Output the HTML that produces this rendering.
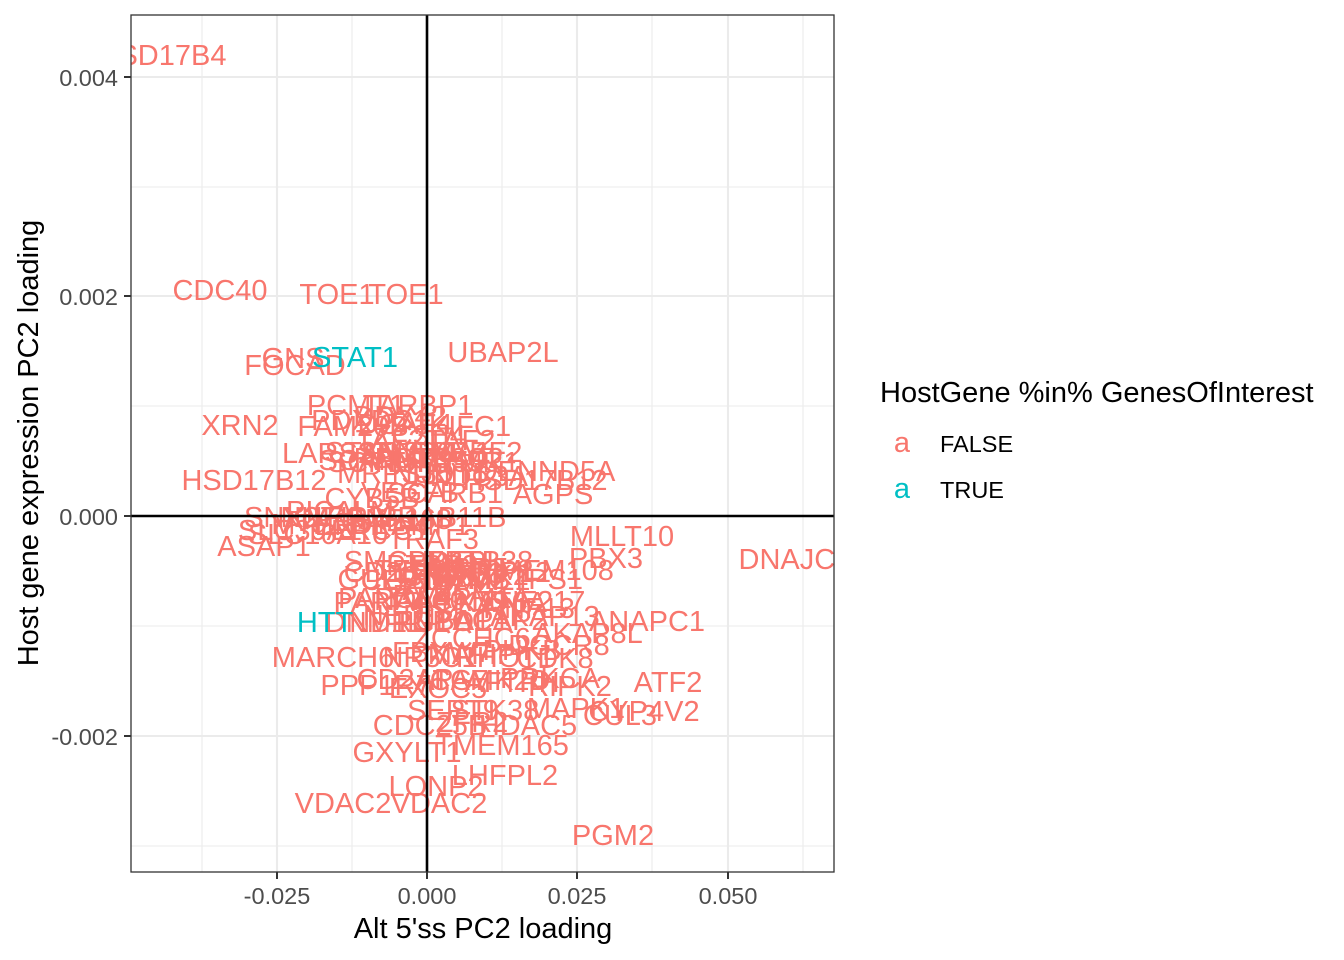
<!DOCTYPE html>
<html><head><meta charset="utf-8">
<style>
html,body{margin:0;padding:0;background:#fff;}
svg{display:block;}
text{font-family:"Liberation Sans",Arial,sans-serif;}
.f{fill:#F8766D;font-size:29px;text-anchor:middle;}
.t{fill:#00BFC4;font-size:29px;text-anchor:middle;}
.ax{fill:#4D4D4D;font-size:23.5px;}
</style></head>
<body>
<svg width="1344" height="960" viewBox="0 0 1344 960" xmlns="http://www.w3.org/2000/svg">
<defs><clipPath id="pc"><rect x="131" y="15" width="703" height="857"/></clipPath></defs>
<rect x="0" y="0" width="1344" height="960" fill="#fff"/>
<g stroke="#EBEBEB" stroke-width="1.1">
<line x1="202" y1="15" x2="202" y2="872"/><line x1="352" y1="15" x2="352" y2="872"/><line x1="502" y1="15" x2="502" y2="872"/><line x1="652" y1="15" x2="652" y2="872"/><line x1="803" y1="15" x2="803" y2="872"/>
<line x1="131" y1="187" x2="834" y2="187"/><line x1="131" y1="406" x2="834" y2="406"/><line x1="131" y1="626" x2="834" y2="626"/><line x1="131" y1="846" x2="834" y2="846"/>
</g>
<g stroke="#EBEBEB" stroke-width="2.1">
<line x1="277" y1="15" x2="277" y2="872"/><line x1="427" y1="15" x2="427" y2="872"/><line x1="577" y1="15" x2="577" y2="872"/><line x1="728" y1="15" x2="728" y2="872"/>
<line x1="131" y1="77" x2="834" y2="77"/><line x1="131" y1="296" x2="834" y2="296"/><line x1="131" y1="516" x2="834" y2="516"/><line x1="131" y1="736" x2="834" y2="736"/>
</g>
<g clip-path="url(#pc)">
<text class="f" x="162" y="65">HSD17B4</text>
<text class="f" x="220" y="300">CDC40</text>
<text class="f" x="337" y="304">TOE1</text>
<text class="f" x="406" y="304">TOE1</text>
<text class="f" x="503" y="362">UBAP2L</text>
<text class="f" x="295" y="375">FOCAD</text>
<text class="f" x="293" y="368">GNS</text>
<text class="f" x="356" y="415">PCMT1</text>
<text class="f" x="418" y="415">TARBP1</text>
<text class="f" x="240" y="435">XRN2</text>
<text class="f" x="353" y="436">FAM20B</text>
<text class="f" x="370" y="430">PDXDC1</text>
<text class="f" x="400" y="426">DDX42</text>
<text class="f" x="405" y="434">DCAF4</text>
<text class="f" x="470" y="436">KIFC1</text>
<text class="f" x="390" y="450">TAF2</text>
<text class="f" x="461" y="450">TAF2</text>
<text class="f" x="420" y="445">ZC3H4</text>
<text class="f" x="328" y="463">LARS2</text>
<text class="f" x="372" y="462">STAM2</text>
<text class="f" x="405" y="462">SENP6</text>
<text class="f" x="440" y="462">NUMA1</text>
<text class="f" x="466" y="462">SREBF2</text>
<text class="f" x="385" y="472">SCPEP1</text>
<text class="f" x="358" y="470">SCAP</text>
<text class="f" x="430" y="472">NUP155</text>
<text class="f" x="402" y="468">RBM33</text>
<text class="f" x="468" y="472">MTMR1</text>
<text class="f" x="448" y="468">GTF3C2</text>
<text class="f" x="546" y="481">DENND5A</text>
<text class="f" x="395" y="483">MRPS35</text>
<text class="f" x="440" y="483">NUDT5</text>
<text class="f" x="470" y="486">FNDC3A</text>
<text class="f" x="254" y="490">HSD17B12</text>
<text class="f" x="535" y="490">HSD17B12</text>
<text class="f" x="553" y="504">AGPS</text>
<text class="f" x="372" y="508">CYB5B</text>
<text class="f" x="410" y="502">VEGFB</text>
<text class="f" x="445" y="503">SCARB1</text>
<text class="f" x="290" y="527">SNX27</text>
<text class="f" x="332" y="527">NUFIP2</text>
<text class="f" x="362" y="527">VPS13B</text>
<text class="f" x="398" y="529">RNF168</text>
<text class="f" x="452" y="527">RAB11B</text>
<text class="f" x="340" y="521">PICALM</text>
<text class="f" x="330" y="534">MTHFD1</text>
<text class="f" x="372" y="535">ENTPD4</text>
<text class="f" x="420" y="535">RAMP1</text>
<text class="f" x="380" y="540">ERCC1</text>
<text class="f" x="318" y="544">SLC16A10</text>
<text class="f" x="300" y="540">SLC39A1</text>
<text class="f" x="433" y="549">TRAF3</text>
<text class="f" x="264" y="556">ASAP1</text>
<text class="f" x="622" y="546">MLLT10</text>
<text class="f" x="606" y="568">PBX3</text>
<text class="f" x="803" y="569">DNAJC13</text>
<text class="f" x="405" y="571">SMCHD1</text>
<text class="f" x="455" y="571">PREPL</text>
<text class="f" x="480" y="571">ZBTB38</text>
<text class="f" x="432" y="575">PTBP2</text>
<text class="f" x="470" y="578">UBR5</text>
<text class="f" x="502" y="582">TRIP12</text>
<text class="f" x="400" y="582">CD2BP2</text>
<text class="f" x="385" y="589">GULP1</text>
<text class="f" x="420" y="580">TELO2</text>
<text class="f" x="450" y="583">LPCAT3</text>
<text class="f" x="470" y="585">PPIP5K2</text>
<text class="f" x="547" y="580">TMEM108</text>
<text class="f" x="525" y="589">MBTPS1</text>
<text class="f" x="415" y="590">CEP192</text>
<text class="f" x="458" y="589">ZMYM2</text>
<text class="f" x="440" y="586">GNB1</text>
<text class="f" x="482" y="590">DMXL1</text>
<text class="f" x="420" y="600">VAV2</text>
<text class="f" x="380" y="612">PARP4</text>
<text class="f" x="395" y="608">PAPOLA</text>
<text class="f" x="440" y="605">RAB5A</text>
<text class="f" x="420" y="610">NAA40</text>
<text class="f" x="460" y="611">ACAD9</text>
<text class="f" x="482" y="608">PPM1A</text>
<text class="f" x="502" y="612">KAT6A</text>
<text class="f" x="533" y="611">ZNF217</text>
<text class="f" x="529" y="618">RNF13</text>
<text class="f" x="374" y="632">DNM1L</text>
<text class="f" x="400" y="632">NDRG1</text>
<text class="f" x="412" y="625">NEDD4</text>
<text class="f" x="442" y="631">TNPO1</text>
<text class="f" x="462" y="630">UBAP1</text>
<text class="f" x="500" y="630">ACAP2</text>
<text class="f" x="545" y="626">AKAP13</text>
<text class="f" x="647" y="631">ANAPC1</text>
<text class="f" x="588" y="643">AKAP8L</text>
<text class="f" x="472" y="648">ZCCHC6</text>
<text class="f" x="559" y="655">DGCR8</text>
<text class="f" x="333" y="667">MARCH6</text>
<text class="f" x="430" y="667">NR3C1</text>
<text class="f" x="442" y="662">FBXW7</text>
<text class="f" x="472" y="664">MAFIP</text>
<text class="f" x="505" y="667">RHOT1</text>
<text class="f" x="522" y="660">PHKB</text>
<text class="f" x="555" y="668">CDK8</text>
<text class="f" x="376" y="695">PPP1R7</text>
<text class="f" x="405" y="689">CD2AP</text>
<text class="f" x="438" y="698">EXOC5</text>
<text class="f" x="452" y="690">ATG7</text>
<text class="f" x="490" y="690">CAMK2D</text>
<text class="f" x="512" y="692">AFTPH</text>
<text class="f" x="550" y="688">PRKCA</text>
<text class="f" x="570" y="696">RIPK2</text>
<text class="f" x="668" y="692">ATF2</text>
<text class="f" x="453" y="720">SEPT9</text>
<text class="f" x="495" y="720">STK38</text>
<text class="f" x="576" y="718">MAPK1</text>
<text class="f" x="620" y="725">CUL3</text>
<text class="f" x="644" y="721">CYP4V2</text>
<text class="f" x="430" y="735">CDC25B</text>
<text class="f" x="472" y="732">ZFR2</text>
<text class="f" x="528" y="735">HDAC5</text>
<text class="f" x="502" y="755">TMEM165</text>
<text class="f" x="407" y="762">GXYLT1</text>
<text class="f" x="505" y="785">LHFPL2</text>
<text class="f" x="436" y="796">LONP2</text>
<text class="f" x="343" y="813">VDAC2</text>
<text class="f" x="439" y="813">VDAC2</text>
<text class="f" x="613" y="845">PGM2</text>
<text class="t" x="355" y="367">STAT1</text>
<text class="t" x="325" y="632">HTT</text>
</g>
<line x1="131" y1="516" x2="834" y2="516" stroke="#000" stroke-width="2.6"/>
<line x1="427" y1="15" x2="427" y2="872" stroke="#000" stroke-width="2.6"/>
<rect x="131" y="15" width="703" height="857" fill="none" stroke="#333333" stroke-width="1.3"/>
<g stroke="#333333" stroke-width="2">
<line x1="124" y1="77" x2="131" y2="77"/><line x1="124" y1="296" x2="131" y2="296"/><line x1="124" y1="516" x2="131" y2="516"/><line x1="124" y1="736" x2="131" y2="736"/>
<line x1="277" y1="872" x2="277" y2="879"/><line x1="427" y1="872" x2="427" y2="879"/><line x1="577" y1="872" x2="577" y2="879"/><line x1="728" y1="872" x2="728" y2="879"/>
</g>
<g text-anchor="end">
<text class="ax" x="118" y="86">0.004</text>
<text class="ax" x="118" y="305">0.002</text>
<text class="ax" x="118" y="525">0.000</text>
<text class="ax" x="118" y="745">-0.002</text>
</g>
<g text-anchor="middle">
<text class="ax" x="277" y="904">-0.025</text>
<text class="ax" x="427" y="904">0.000</text>
<text class="ax" x="577" y="904">0.025</text>
<text class="ax" x="728" y="904">0.050</text>
</g>
<text x="483" y="938" font-size="29" text-anchor="middle" fill="#000">Alt 5'ss PC2 loading</text>
<text x="0" y="0" font-size="29" text-anchor="middle" fill="#000" transform="translate(38,443) rotate(-90)">Host gene expression PC2 loading</text>
<text x="880" y="402" font-size="29" fill="#000">HostGene %in% GenesOfInterest</text>
<text x="902" y="452" font-size="29" text-anchor="middle" fill="#F8766D">a</text>
<text x="902" y="498" font-size="29" text-anchor="middle" fill="#00BFC4">a</text>
<text x="940" y="452" font-size="23.5" fill="#000">FALSE</text>
<text x="940" y="498" font-size="23.5" fill="#000">TRUE</text>
</svg>
</body></html>
